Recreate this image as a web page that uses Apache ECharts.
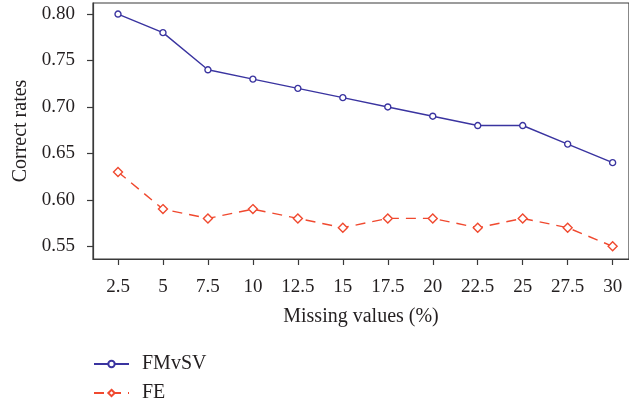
<!DOCTYPE html>
<html>
<head>
<meta charset="utf-8">
<style>
  html, body { margin: 0; padding: 0; background: #fff; }
  #chart { width: 629px; height: 404px; }
</style>
<script src="https://cdn.jsdelivr.net/npm/echarts@6/dist/echarts.min.js"></script>
</head>
<body>
<div id="chart"></div>
<script>
// Missing-value percentages on the x axis
const missingPct = [2.5, 5, 7.5, 10, 12.5, 15, 17.5, 20, 22.5, 25, 27.5, 30];
// Correct rates of each method
const fmvsv = [0.80, 0.78, 0.74, 0.73, 0.72, 0.71, 0.70, 0.69, 0.68, 0.68, 0.66, 0.64];
const fe = [0.63, 0.59, 0.58, 0.59, 0.58, 0.57, 0.58, 0.58, 0.57, 0.58, 0.57, 0.55];
// Tick values shown on the y axis
const yTicks = [0.55, 0.60, 0.65, 0.70, 0.75, 0.80];

const FONT = '"Liberation Serif", "DejaVu Serif", serif';
const TEXT = '#231f20';
const AXIS = '#3a3a3a';
const BLUE = '#3a34a0';
const RED = '#f0492f';

const chart = echarts.init(document.getElementById('chart'), null, { renderer: 'canvas' });

// one legend block per series, stacked under the plot
function legendBlock(name, top) {
  return {
    orient: 'horizontal',
    left: 88,
    top: top,
    itemWidth: 35,
    itemHeight: 8,
    textStyle: { fontFamily: FONT, fontSize: 20, color: TEXT, padding: [0, 0, 0, 8] },
    data: [name]
  };
}

chart.setOption({
  backgroundColor: '#ffffff',
  animation: false,
  textStyle: { fontFamily: FONT, color: TEXT },
  grid: { left: 93, top: 3, right: -1, bottom: 145, containLabel: false,
          show: true, borderColor: AXIS, borderWidth: 1.2, backgroundColor: 'transparent' },
  legend: [legendBlock('FMvSV', 349), legendBlock('FE', 378)],
  xAxis: {
    type: 'value',
    min: 1.11,
    max: 30.91,
    name: 'Missing values (%)',
    nameLocation: 'middle',
    nameGap: 48,
    nameTextStyle: { fontFamily: FONT, fontSize: 20, color: TEXT },
    axisLine: { show: true, lineStyle: { color: AXIS, width: 1.2 } },
    axisTick: { show: true, customValues: missingPct, length: 6, inside: false,
                lineStyle: { color: AXIS, width: 1.2 } },
    axisLabel: { customValues: missingPct, fontFamily: FONT, fontSize: 19, color: TEXT, margin: 19,
                 formatter: v => String(v) },
    splitLine: { show: false }
  },
  yAxis: {
    type: 'value',
    min: 0.5363,
    max: 0.8119,
    name: 'Correct rates',
    nameLocation: 'middle',
    nameGap: 60,
    nameRotate: 90,
    nameTextStyle: { fontFamily: FONT, fontSize: 20, color: TEXT },
    axisLine: { show: true, lineStyle: { color: AXIS, width: 1.2 } },
    axisTick: { show: true, customValues: yTicks, length: 6, inside: false,
                lineStyle: { color: AXIS, width: 1.2 } },
    axisLabel: { customValues: yTicks, fontFamily: FONT, fontSize: 19, color: TEXT, margin: 18,
                 formatter: v => v.toFixed(2) },
    splitLine: { show: false }
  },
  series: [
    {
      name: 'FMvSV',
      type: 'line',
      data: missingPct.map((x, i) => [x, fmvsv[i]]),
      symbol: 'circle',
      symbolSize: 6,
      showAllSymbol: true,
      lineStyle: { color: BLUE, width: 1.4 },
      itemStyle: { color: '#ffffff', borderColor: BLUE, borderWidth: 1.4 }
    },
    {
      name: 'FE',
      type: 'line',
      data: missingPct.map((x, i) => [x, fe[i]]),
      symbol: 'diamond',
      symbolSize: 9,
      showAllSymbol: true,
      lineStyle: { color: RED, width: 1.4, type: [10, 7] },
      itemStyle: { color: '#ffffff', borderColor: RED, borderWidth: 1.4 }
    }
  ]
});
</script>
</body>
</html>
